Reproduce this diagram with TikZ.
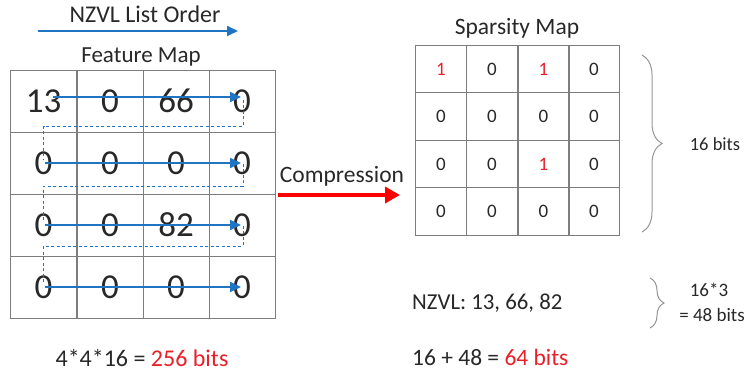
\documentclass[tikz,border=0pt]{standalone}
\usepackage{fontspec}
\setmainfont{Carlito}
\usetikzlibrary{arrows.meta,decorations.pathreplacing}
\definecolor{flowblue}{RGB}{31,117,196}
\definecolor{hotred}{RGB}{232,32,42}
\definecolor{gridgray}{RGB}{125,125,125}
\definecolor{bracegray}{RGB}{150,150,150}
\definecolor{inkblack}{RGB}{40,40,40}
\tikzset{
  fcell/.style={draw=gridgray, line width=0.8pt, minimum width=66pt, minimum height=62pt, inner sep=0pt, text=inkblack, font=\fontsize{35}{35}\selectfont},
  scell/.style={draw=gridgray, line width=0.9pt, minimum width=51pt, minimum height=47.5pt, inner sep=0pt, text=inkblack, font=\fontsize{19}{19}\selectfont},
  label/.style={inner sep=0pt, text=inkblack, font=\fontsize{23}{23}\selectfont},
  flowarrow/.style={draw=flowblue, line width=2pt, -{Triangle[length=11pt,width=10pt]}},
  dashflow/.style={draw=flowblue, line width=0.9pt, dash pattern=on 3pt off 2.5pt},
  comparrow/.style={draw=red, line width=3.5pt, -{Triangle[length=15pt,width=16pt]}},
  bracestyle/.style={draw=bracegray, line width=1pt, decorate}
}
\begin{document}
\begin{tikzpicture}[x=1pt,y=-1pt]
\useasboundingbox (0,0) rectangle (750,374);
% titles
\node[label, font=\fontsize{24}{24}\selectfont] (ordtitle) at (145,14) {NZVL List Order};
\coordinate (ords) at (38,31);
\coordinate (orde) at (238,31);
\draw[flowarrow] (ords) -- (orde);
\node[label] (fmtitle) at (141,57) {Feature Map};
% feature map
\foreach \r/\y/\a/\b/\c/\d in {1/101/13/0/66/0, 2/163/0/0/0/0, 3/225/0/0/82/0, 4/287/0/0/0/0}{
  \node[fcell] (f-\r-1) at (43.5,\y) {\a};
  \node[fcell] (f-\r-2) at (110,\y) {\b};
  \node[fcell] (f-\r-3) at (176,\y) {\c};
  \node[fcell] (f-\r-4) at (242,\y) {\d};
}
% scan arrows
\draw[flowarrow] ([xshift=9pt,yshift=4pt]f-1-1.center) -- ([xshift=-1pt,yshift=4pt]f-1-4.center);
\draw[flowarrow] ([xshift=1pt]f-2-1.center) -- ([xshift=-1pt]f-2-4.center);
\draw[flowarrow] ([xshift=1pt]f-3-1.center) -- ([xshift=-1pt]f-3-4.center);
\draw[flowarrow] ([xshift=1pt]f-4-1.center) -- ([xshift=-1pt]f-4-4.center);
\draw[dashflow] ([xshift=1pt,yshift=1pt]f-1-4.center) -- ([xshift=1pt,yshift=6pt]f-1-4.south) -| ([yshift=3pt]f-2-1.center);
\draw[dashflow] ([xshift=1pt,yshift=-1pt]f-2-4.center) -- ([xshift=1pt,yshift=8pt]f-2-4.south) -| ([yshift=3pt]f-3-1.center);
\draw[dashflow] ([xshift=1pt,yshift=-1pt]f-3-4.center) -- ([xshift=1pt,yshift=10pt]f-3-4.south) -| ([yshift=3pt]f-4-1.center);
% compression
\coordinate (cs) at (278,195);
\coordinate (ce) at (400,195);
\draw[comparrow] (cs) -- (ce);
\node[label, font=\fontsize{23.5}{23.5}\selectfont] (comp) at (342,176) {Compression};
% sparsity map
\node[label, font=\fontsize{23.5}{23.5}\selectfont] (smtitle) at (517,28) {Sparsity Map};
\foreach \r/\y/\a/\b/\c/\d in {1/69/{\color{hotred}1}/0/{\color{hotred}1}/0, 2/116.5/0/0/0/0, 3/164/0/0/{\color{hotred}1}/0, 4/211.5/0/0/0/0}{
  \node[scell] (s-\r-1) at (441,\y) {\a};
  \node[scell] (s-\r-2) at (492,\y) {\b};
  \node[scell] (s-\r-3) at (543.5,\y) {\c};
  \node[scell] (s-\r-4) at (594,\y) {\d};
}
% braces
\coordinate (b1s) at (642,55);
\coordinate (b1e) at (642,232);
\draw[bracestyle, decoration={brace, amplitude=20pt}] (b1s) -- (b1e);
\node[label, font=\fontsize{18.5}{18.5}\selectfont] (bits16) at (715,144) {16 bits};
\coordinate (b2s) at (650,278);
\coordinate (b2e) at (650,328);
\draw[bracestyle, decoration={brace, amplitude=14pt}] (b2s) -- (b2e);
\node[label, font=\fontsize{19}{19}\selectfont] (mult) at (709,290) {16*3};
\node[label, font=\fontsize{19}{19}\selectfont] (eq48) at (712,315) {= 48 bits};
% bottom texts
\node[label, anchor=west, font=\fontsize{22.8}{22.8}\selectfont] (nzvl) at (412,303) {NZVL: 13, 66, 82};
\node[label, anchor=west, font=\fontsize{23.5}{23.5}\selectfont] (total) at (412,357) {16 + 48 = {\color{hotred}64 bits}};
\node[label, font=\fontsize{24}{24}\selectfont] (orig) at (142,358) {4*4*16 = {\color{hotred}256 bits}};
\end{tikzpicture}
\end{document}
